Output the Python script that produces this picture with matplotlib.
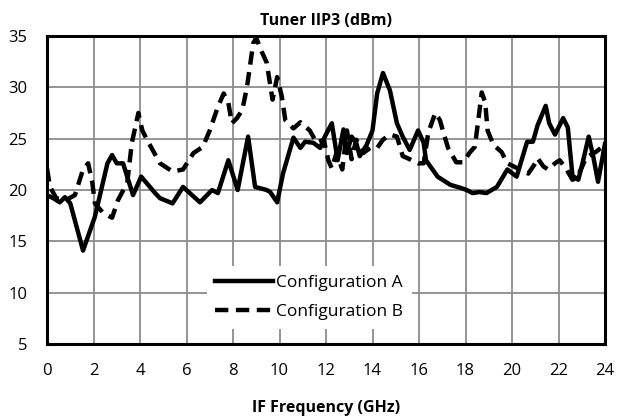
import matplotlib
matplotlib.use("Agg")
import matplotlib.pyplot as plt

plt.rcParams['font.family'] = ['Open Sans', 'DejaVu Sans']

freq_a = [0.0, 0.27, 0.55, 0.77, 1.0, 1.55, 2.06, 2.6, 2.8, 3.0, 3.27, 3.7, 4.05, 4.65, 4.86, 5.4,
          5.85, 6.58, 7.1, 7.35, 7.8, 8.2, 8.65, 8.95, 9.45, 9.6, 9.9, 10.15, 10.6, 10.9, 11.1,
          11.45, 11.75, 11.95, 12.25, 12.5, 12.75, 12.9, 13.1, 13.3, 13.45, 13.75, 14.0, 14.2,
          14.45, 14.75, 15.05, 15.3, 15.6, 15.96, 16.2, 16.3, 16.8, 17.35, 17.8, 18.05, 18.3,
          18.6, 18.9, 19.35, 19.8, 20.2, 20.65, 20.9, 21.1, 21.45, 21.6, 21.85, 22.2, 22.4, 22.6,
          22.85, 23.0, 23.3, 23.5, 23.7, 24.0]
iip3_a = [19.5, 19.2, 18.8, 19.3, 18.7, 14.1, 17.4, 22.6, 23.4, 22.6, 22.6, 19.5, 21.3, 19.7, 19.2, 18.7,
          20.3, 18.8, 20.0, 19.7, 22.9, 20.0, 25.2, 20.3, 20.0, 19.8, 18.8, 21.6, 25.1, 24.1, 24.7,
          24.6, 24.1, 25.2, 26.5, 22.9, 25.9, 23.6, 25.2, 24.6, 23.3, 24.4, 25.8, 29.4,
          31.4, 29.7, 26.5, 25.2, 23.9, 25.8, 24.6, 22.9, 21.3, 20.5, 20.2, 20.0, 19.7,
          19.8, 19.7, 20.3, 22.0, 21.3, 24.7, 24.7, 26.3, 28.2, 26.5, 25.4, 27.0, 26.1, 21.4,
          21.0, 22.3, 25.2, 23.2, 20.8, 24.5]

freq_b = [0.0, 0.13, 0.4, 0.8, 1.2, 1.55, 1.77, 1.95, 2.06, 2.4, 2.8, 3.05, 3.45, 3.65, 3.93, 4.1, 4.3,
          4.86, 5.4, 5.85, 6.3, 6.7, 7.0, 7.35, 7.6, 7.8, 7.95, 8.17, 8.4, 8.6, 8.87, 9.0, 9.25,
          9.45, 9.7, 9.9, 10.1, 10.25, 10.6, 10.9, 11.3, 11.6, 11.9, 12.1, 12.25, 12.45, 12.7,
          12.9, 13.1, 13.3, 13.6, 13.9, 14.2, 14.45, 14.75, 15.05, 15.3, 15.6, 15.95, 16.2, 16.4,
          16.7, 16.9, 17.05, 17.25, 17.6, 17.9, 18.2, 18.4, 18.55, 18.7, 18.85, 18.95, 19.2,
          19.55, 19.8, 20.25, 20.7, 21.0, 21.1, 21.35, 21.55, 21.85, 22.05, 22.35, 22.6, 22.8,
          23.2, 23.6, 24.0]
iip3_b = [22.1, 20.3, 19.2, 19.0, 19.5, 22.0, 22.6, 20.7, 18.7, 17.8, 17.3, 19.0, 20.7, 24.6, 27.5, 25.8, 24.9,
          22.6, 21.8, 22.0, 23.6, 24.2, 25.8, 28.1, 29.4, 28.5, 26.5, 27.0, 27.8, 30.0, 34.3, 34.8, 33.4,
          32.4, 28.8, 31.0, 29.1, 26.8, 26.0, 26.6, 25.8, 24.6, 24.9, 22.9, 22.1, 23.6, 22.0,
          25.8, 23.0, 24.9, 23.6, 24.1, 24.1, 24.9, 25.4, 25.2, 23.3, 23.0, 22.6, 22.6, 25.6,
          27.5, 26.8, 25.6, 24.1, 22.7, 22.7, 23.7, 24.2, 26.8, 29.5, 28.5, 25.8, 24.4,
          23.7, 22.6, 22.1, 21.6, 22.6, 23.1, 22.3, 22.0, 22.6, 22.9, 22.0, 21.0, 21.2,
          23.2, 23.7, 24.4]

xticks = list(range(0, 25, 2))
yticks = [5, 10, 15, 20, 25, 30, 35]

fig = plt.figure(figsize=(6.17, 4.19), dpi=100)
ax = fig.add_axes([47/617, 1 - 344/419, 558/617, 308/419])

ax.plot(freq_a, iip3_a, color='black', lw=3.2, label='Configuration A', solid_joinstyle='round')
ax.plot(freq_b, iip3_b, color='black', lw=3.2, linestyle=(0, (3.0, 1.7)), label='Configuration B')

ax.set_xlim(0, 24)
ax.set_ylim(5, 35)
ax.set_xticks(xticks)
ax.set_yticks(yticks)
ax.tick_params(axis='x', length=0, labelsize=12, pad=14)
ax.tick_params(axis='y', length=0, labelsize=12, pad=14)
ax.grid(True, color='#8c8c8c', lw=1.3)
ax.set_axisbelow(True)
for s in ax.spines.values():
    s.set_linewidth(2.2)
    s.set_color('black')

ax.set_title('Tuner IIP3 (dBm)', fontsize=11.5, fontweight='bold', pad=8)
ax.set_xlabel('IF Frequency (GHz)', fontsize=11.5, fontweight='bold', labelpad=15)

leg = ax.legend(loc='center', bbox_to_anchor=(0.47, 0.151), frameon=True, fancybox=False,
                edgecolor='none', facecolor='white', framealpha=1, fontsize=12.5,
                handlelength=3.3, handletextpad=0.2, borderpad=0.5, labelspacing=0.75)

fig.savefig('out.png', dpi=100)
